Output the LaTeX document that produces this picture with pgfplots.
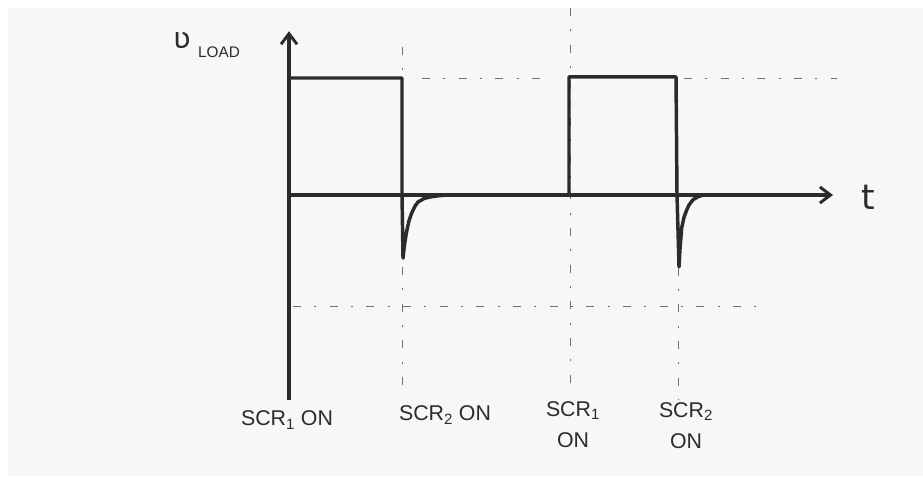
\documentclass[border=0pt]{standalone}
\usepackage{fontspec}
\setmainfont{Liberation Sans}
\newfontfamily\dejavu{DejaVu Sans}
\usepackage{pgfplots}
\pgfplotsset{compat=1.18}
\usetikzlibrary{arrows.meta}
\definecolor{bg}{HTML}{F8F7F5}
\definecolor{ink}{HTML}{2B2B2B}
\definecolor{dsh}{HTML}{707070}
\tikzset{
  dashln/.style={dsh, line width=0.7pt, dash pattern=on 6pt off 10pt on 1.5pt off 10pt},
  lbl/.style={ink, inner sep=0pt, align=center, font=\fontsize{16}{23}\selectfont},
}
\begin{document}
\begin{tikzpicture}
\begin{axis}[
  x=0.75pt, y=87.75pt,
  xmin=-289, xmax=634, ymin=-2.4017, ymax=1.6667,
  hide axis, clip=false,
]
% background (white margin on top and left)
\fill[white] (axis cs:-289,-2.4017) rectangle (axis cs:634,1.6667);
\fill[bg] (axis cs:-281,-2.4017) rectangle (axis cs:634,1.5983);

% dashed guide lines
\addplot[dashln] coordinates {(113,1.265) (113,-1.667)};
\addplot[dashln] coordinates {(281,1.598) (281,-1.675)};
\addplot[dashln] coordinates {(389,-0.62) (389,-1.75)};
\addplot[dashln] coordinates {(133,1) (261,1)};
\addplot[dashln] coordinates {(395,1) (548,1)};
\addplot[dashln] coordinates {(4,-0.95) (476,-0.95)};

% axes
\addplot[ink, line width=2.3pt, -{Straight Barb[length=8pt,width=12pt,line width=2.2pt]}]
  coordinates {(0,0) (544,0)};
\addplot[ink, line width=2.3pt, -{Straight Barb[length=8pt,width=12pt,line width=2.2pt]}]
  coordinates {(0,-1.75) (0,1.40)};

% load voltage waveform
\addplot[ink, line width=2.6pt, line join=round] coordinates {
  (0,0) (0,1) (113,1) (113,0) (114,-0.54) (115,-0.46) (116.3,-0.38)
  (117.7,-0.31) (120,-0.22) (122.7,-0.154) (126,-0.095) (129,-0.06)
  (135,-0.03) (141,-0.017) (150,-0.006) (158,0) (280,0) (280,1.01)
  (387,1.01) (388,0) (390,-0.615) (391,-0.46) (392.7,-0.28) (395,-0.19)
  (397.7,-0.128) (400,-0.085) (404,-0.04) (409,-0.015) (414,0) (460,0)};

% labels
\node[ink, inner sep=0pt] at (axis cs:-107,1.325) {\fontsize{22}{22}\selectfont\dejavu ʋ};
\node[ink, inner sep=0pt] at (axis cs:-70,1.222) {\fontsize{11.5}{12}\selectfont LOAD};
\node[ink, inner sep=0pt] at (axis cs:579,-0.02) {\fontsize{26}{26}\selectfont\dejavu t};
\node[lbl] at (axis cs:-2,-1.923) {SCR\textsubscript{1} ON};
\node[lbl] at (axis cs:156,-1.88) {SCR\textsubscript{2} ON};
\node[lbl] at (axis cs:284,-1.96) {SCR\textsubscript{1}\\ON};
\node[lbl] at (axis cs:397,-1.97) {SCR\textsubscript{2}\\ON};
\end{axis}
\end{tikzpicture}
\end{document}
